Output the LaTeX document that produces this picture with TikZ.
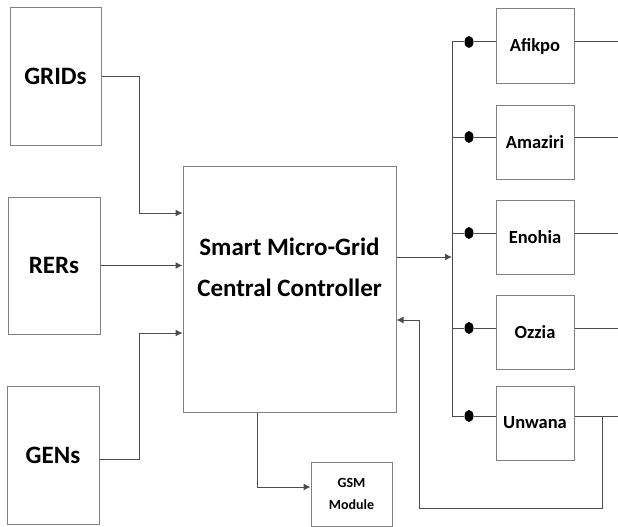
\documentclass[tikz,border=0pt]{standalone}
\usepackage{fontspec}
\setmainfont{Carlito}
\usetikzlibrary{arrows.meta,shapes.geometric}

\begin{document}
\begin{tikzpicture}[x=1pt,y=-1pt,
  box/.style={draw=gray,line width=1pt,inner sep=0pt},
  conn/.style={draw=black!70,line width=1pt},
  arr/.style={conn,-{Latex[length=7pt,width=7pt]}},
  big/.style={font=\fontsize{25}{30}\selectfont\bfseries},
  small/.style={font=\fontsize{18.5}{20}\selectfont\bfseries}]
  \useasboundingbox (0,0) rectangle (618,527);
  % sources
  \node[box,big,minimum width=91,minimum height=138] (grids) at (55.5,76.5) {GRIDs};
  \node[box,big,minimum width=92,minimum height=137] (rers) at (54,265.5) {RERs};
  \node[box,big,minimum width=92,minimum height=138] (gens) at (53,455) {GENs};
  % controller
  \node[box,minimum width=213,minimum height=246] (ctrl) at (289.5,289) {};
  \node[big,align=center,font=\fontsize{25}{41}\selectfont\bfseries] (ctrltxt) at (289.5,267) {Smart Micro-Grid\\Central Controller};
  \node[box,align=center,font=\fontsize{14}{22}\selectfont\bfseries,minimum width=81,minimum height=64] (gsm) at (351.5,494) {GSM\\Module};
  % inputs
  \draw[arr] (grids.east) -- (139,76.5) |- (ctrl.west |- 0,213);
  \draw[arr] (rers.east) -- (ctrl.west |- rers.east);
  \draw[arr] ([yshift=-4pt]gens.east) -| (139,333) -- (ctrl.west |- 0,333);
  \draw[arr] (ctrl.south -| 257,0) |- (gsm.west |- 0,487);
  % loads
  \coordinate (busin) at (452,257);
  \draw[arr] (ctrl.east |- busin) -- (busin);
  \foreach \n/\name/\yb/\yr [count=\i] in {afikpo/Afikpo/46/42,amaziri/Amaziri/142.5/137,enohia/Enohia/237/233,ozzia/Ozzia/332/328,unwana/Unwana/423/416}{
    \node[box,small,minimum width=78,minimum height=74] (\n) at (535,\yb) {\name};
    \coordinate (bus\i) at (452,\yr);
    \node[fill=black,ellipse,inner sep=0pt,minimum width=9,minimum height=12] (dot\i) at (469,\yr) {};
    \coordinate (out\i) at (618,\yr);
    \draw[conn] (bus\i) -- (dot\i) -- (dot\i -| \n.west);
    \draw[conn] (\n.east |- out\i) -- (out\i);
  }
  \draw[conn] (bus1) -- (bus5);
  % feedback
  \coordinate (fb) at (602,416);
  \draw[arr] (fb) -- (602,508) -- (419,508) |- (ctrl.east |- 0,320);
\end{tikzpicture}
\end{document}
